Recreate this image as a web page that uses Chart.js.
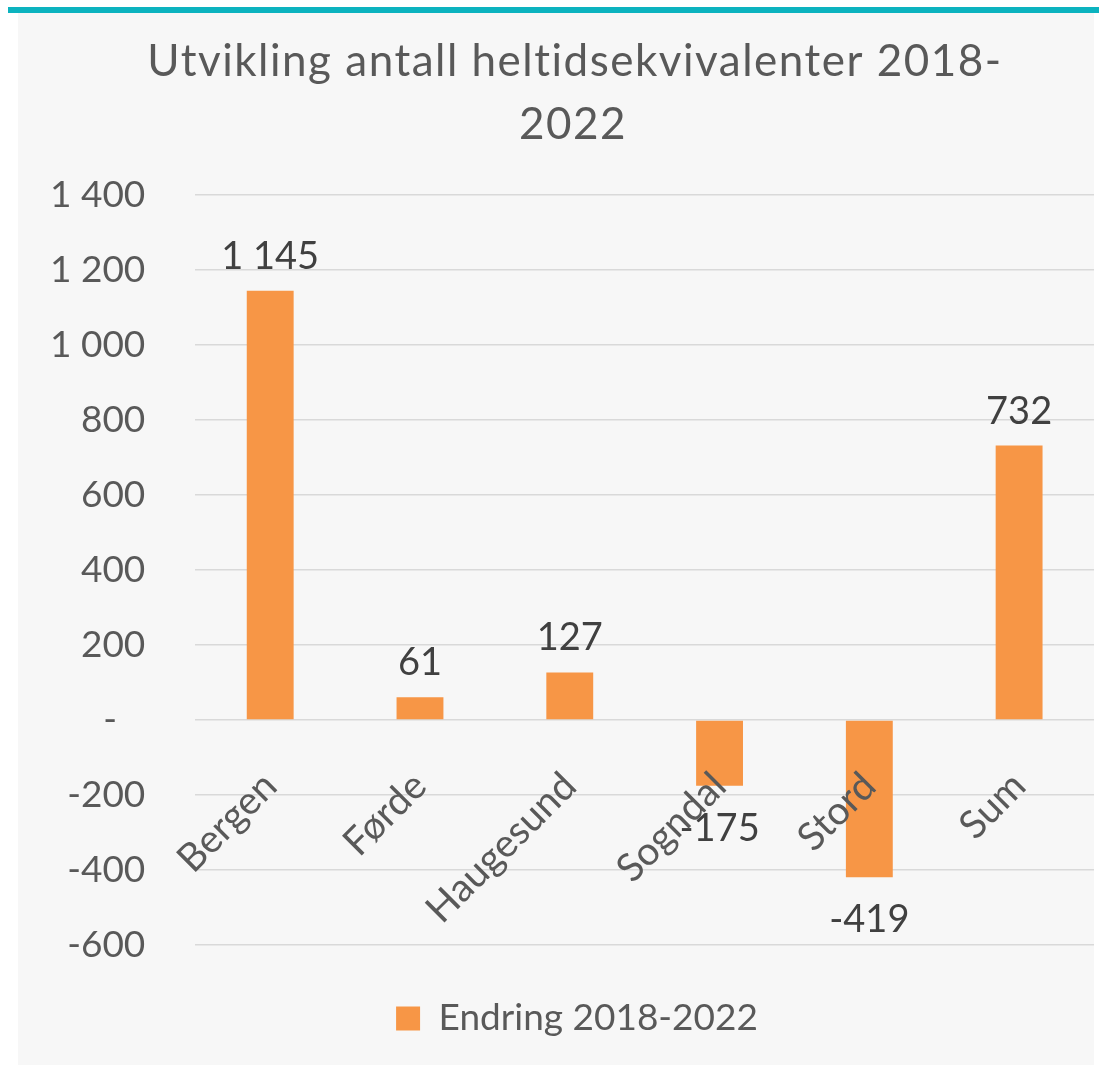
<!DOCTYPE html>
<html>
<head>
<meta charset="utf-8">
<script src="https://cdn.jsdelivr.net/npm/chart.js@4/dist/chart.umd.min.js"></script>
<style>
  html, body { margin: 0; padding: 0; background: #ffffff; }
  #wrap { position: relative; width: 1099px; height: 1065px; }
</style>
</head>
<body>
<div id="wrap"><canvas id="c" width="1099" height="1065"></canvas></div>
<script>
const categories = ["Bergen", "Førde", "Haugesund", "Sogndal", "Stord", "Sum"];
const seriesName = "Endring 2018-2022";
const values = [1145, 61, 127, -175, -419, 732];
const titleLines = ["Utvikling antall heltidsekvivalenter 2018-", "2022"];
const yMin = -600, yMax = 1400, yStep = 200;

const FONT = "Lato";
const TEXT = "#595959";
const LABEL = "#404040";
const BAR = "#f79646";

function fmt(v) {
  if (v === 0) return "-   ";
  const s = Math.abs(Math.round(v)).toString().replace(/\B(?=(\d{3})+(?!\d))/g, " ");
  return (v < 0 ? "-" : "") + s;
}

const bgPlugin = {
  id: "bg",
  beforeDraw(chart) {
    const ctx = chart.ctx;
    ctx.save();
    ctx.fillStyle = "#ffffff";
    ctx.fillRect(0, 0, chart.width, chart.height);
    ctx.fillStyle = "#f7f7f7";
    ctx.fillRect(18, 13, 1076, 1052);
    ctx.fillStyle = "#0cb3bf";
    ctx.fillRect(8, 7, 1091, 6);
    // chart title
    ctx.fillStyle = TEXT;
    ctx.font = "44px " + FONT;
    ctx.letterSpacing = "1.5px";
    ctx.textAlign = "center";
    ctx.textBaseline = "alphabetic";
    ctx.fillText(titleLines[0], 575, 76);
    ctx.fillText(titleLines[1], 573, 139);
    ctx.restore();
  }
};

const legendShift = {
  id: "legendShift",
  afterLayout(chart) {
    if (chart.legend) {
      chart.legend.left += 30;
      chart.legend.right += 30;
    }
  }
};

const valueLabels = {
  id: "valueLabels",
  afterDatasetsDraw(chart) {
    const ctx = chart.ctx;
    const meta = chart.getDatasetMeta(0);
    const data = chart.data.datasets[0].data;
    ctx.save();
    ctx.font = "38px " + FONT;
    ctx.fillStyle = LABEL;
    ctx.textAlign = "center";
    ctx.textBaseline = "alphabetic";
    meta.data.forEach((el, i) => {
      const v = data[i];
      const y = v >= 0 ? el.y - 22 : el.y + 55;
      ctx.fillText(fmt(v), el.x, y);
    });
    ctx.restore();
  }
};

new Chart(document.getElementById("c"), {
  type: "bar",
  data: {
    labels: categories,
    datasets: [{
      label: seriesName,
      data: values,
      backgroundColor: BAR,
      borderWidth: 0,
      categoryPercentage: 1,
      barPercentage: 0.313
    }]
  },
  options: {
    responsive: false,
    animation: false,
    devicePixelRatio: 1,
    layout: { padding: { left: 0, right: 5, top: 195, bottom: 18 } },
    plugins: {
      title: { display: false },
      legend: {
        display: true,
        position: "bottom",
        labels: {
          color: TEXT,
          font: { family: FONT, size: 37 },
          boxWidth: 24,
          boxHeight: 24,
          padding: 10
        }
      },
      tooltip: { enabled: false }
    },
    scales: {
      x: {
        position: { y: 0 },
        grid: { display: false },
        border: { display: false },
        ticks: {
          z: 1,
          color: TEXT,
          font: { family: FONT, size: 39 },
          minRotation: 45,
          maxRotation: 45,
          padding: 35,
          autoSkip: false
        }
      },
      gap: {
        type: "linear",
        axis: "x",
        position: "bottom",
        display: true,
        grid: { display: false },
        border: { display: false },
        ticks: { display: false },
        afterFit: (s) => { s.height = 45; }
      },
      y: {
        min: yMin,
        max: yMax,
        grid: { color: "#d9d9d9", lineWidth: 1.5, drawTicks: false },
        border: { display: false },
        ticks: {
          stepSize: yStep,
          color: TEXT,
          font: { family: FONT, size: 37 },
          padding: 50,
          callback: (v) => fmt(v)
        }
      }
    }
  },
  plugins: [bgPlugin, legendShift, valueLabels]
});
</script>
</body>
</html>
